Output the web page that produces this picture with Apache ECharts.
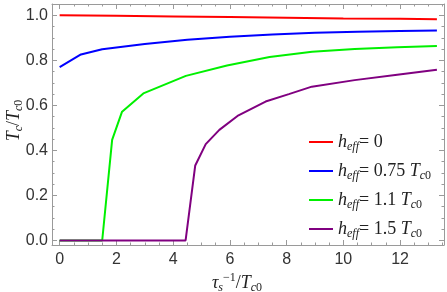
<!DOCTYPE html>
<html><head><meta charset="utf-8">
<script src="https://cdn.jsdelivr.net/npm/echarts@6/dist/echarts.min.js"></script>
<style>html,body{margin:0;padding:0;background:#fff}#c{width:447px;height:292px}</style>
</head><body><div id="c"></div>
<script>
// Data (x = tau_s^-1/Tc0, y = Tc/Tc0)
const redX = [0, 2, 4, 6, 8, 10, 12, 13.3];
const redY = [1.0, 0.998, 0.995, 0.992, 0.989, 0.986, 0.984, 0.982];
const blueX = [0, 0.75, 1.5, 3, 4.5, 6, 7.5, 9, 10.5, 12, 13.3];
const blueY = [0.77, 0.826, 0.849, 0.872, 0.891, 0.905, 0.915, 0.922, 0.927, 0.930, 0.932];
const greenX = [0, 1.5, 1.85, 2.2, 2.95, 4.45, 5.9, 7.4, 8.9, 10.4, 11.9, 13.3];
const greenY = [0, 0, 0.447, 0.572, 0.653, 0.731, 0.777, 0.815, 0.838, 0.850, 0.858, 0.864];
const purpleX = [0, 4.44, 4.78, 5.15, 5.63, 6.27, 7.26, 8.08, 8.89, 10.4, 11.9, 13.3];
const purpleY = [0, 0, 0.333, 0.428, 0.491, 0.553, 0.617, 0.650, 0.683, 0.712, 0.736, 0.758];
const seriesNames = ['h0', 'h075', 'h11', 'h15'];
const legendLabels = {
  h0: '{i|h}{sub|eff}{n|= 0}',
  h075: '{i|h}{sub|eff}{n|= 0.75 }{i|T}{sub|c}{subn|0}',
  h11: '{i|h}{sub|eff}{n|= 1.1 }{i|T}{sub|c}{subn|0}',
  h15: '{i|h}{sub|eff}{n|= 1.5 }{i|T}{sub|c}{subn|0}'
};
const colors = ['#ff0000', '#0000ff', '#00f000', '#800080'];
const xTicks = [0, 2, 4, 6, 8, 10, 12];

const zip = (xs, ys) => xs.map((x, i) => [x, ys[i]]);
const allData = [zip(redX, redY), zip(blueX, blueY), zip(greenX, greenY), zip(purpleX, purpleY)];

const serif = 'Liberation Serif';
const rich = {
  i: {fontFamily: serif, fontStyle: 'italic', fontSize: 18, lineHeight: 22, verticalAlign: 'middle', color: '#222'},
  n: {fontFamily: serif, fontSize: 18, lineHeight: 22, verticalAlign: 'middle', color: '#222'},
  sub: {fontFamily: serif, fontStyle: 'italic', fontSize: 12, lineHeight: 12, verticalAlign: 'bottom', color: '#222'},
  subn: {fontFamily: serif, fontSize: 12, lineHeight: 12, verticalAlign: 'bottom', color: '#222'},
  sup: {fontFamily: serif, fontSize: 12, lineHeight: 12, verticalAlign: 'top', color: '#222'}
};

const frame = '#9a9a9a';
function xAx(pos, show) {
  return {
    type: 'value', position: pos, min: -0.27, max: 13.55, splitNumber: 7,
    axisLine: {show: true, onZero: false, lineStyle: {color: frame, width: 1}},
    axisTick: {show: true, inside: true, length: 5, lineStyle: {color: frame}},
    minorTick: {show: true, splitNumber: 4, length: 2.5, lineStyle: {color: frame}},
    splitLine: {show: false},
    axisLabel: {show: show, showMinLabel: false, showMaxLabel: false, margin: 7,
      fontFamily: 'Liberation Sans', fontSize: 16, color: '#333',
      formatter: v => xTicks.includes(Math.round(v * 100) / 100) ? String(v) : ''},
    name: show ? '{i|τ}{sub|s}{sup|−1}{n|/}{i|T}{sub|c}{subn|0}' : '',
    nameLocation: 'middle', nameGap: 27, nameMoveOverlap: false,
    nameTextStyle: {rich: rich, padding: [0, 22, 0, 0]}
  };
}
function yAx(pos, show) {
  return {
    type: 'value', position: pos, min: -0.02, max: 1.05, splitNumber: 5,
    axisLine: {show: true, onZero: false, lineStyle: {color: frame, width: 1}},
    axisTick: {show: true, inside: true, length: 5, lineStyle: {color: frame}},
    minorTick: {show: true, splitNumber: 4, length: 2.5, lineStyle: {color: frame}},
    splitLine: {show: false},
    axisLabel: {show: show, showMinLabel: false, showMaxLabel: false, margin: 4,
      fontFamily: 'Liberation Sans', fontSize: 16, color: '#333',
      formatter: v => v.toFixed(1)},
    name: show ? '{i|T}{sub|c}{n|/}{i|T}{sub|c}{subn|0}' : '',
    nameLocation: 'middle', nameGap: 27, nameMoveOverlap: false,
    nameTextStyle: {rich: rich, padding: [0, 0, 0, 8]}
  };
}

const chart = echarts.init(document.getElementById('c'), null, {renderer: 'canvas'});
chart.setOption({
  animation: false,
  backgroundColor: '#fff',
  grid: {left: 52, right: 3, top: 4, bottom: 47, containLabel: false, outerBoundsMode: 'none'},
  xAxis: [xAx('bottom', true), xAx('top', false)],
  yAxis: [yAx('left', true), yAx('right', false)],
  legend: {
    orient: 'vertical', left: 304, top: 128, itemGap: 9,
    itemWidth: 24, itemHeight: 2, icon: 'rect',
    data: seriesNames,
    formatter: name => legendLabels[name],
    textStyle: {rich: rich}
  },
  series: seriesNames.map((nm, k) => ({
    name: nm, type: 'line', data: allData[k], symbol: 'none',
    xAxisIndex: 0, yAxisIndex: 0,
    lineStyle: {color: colors[k], width: 2}, itemStyle: {color: colors[k]},
    z: 2 + k
  }))
});
</script></body></html>
